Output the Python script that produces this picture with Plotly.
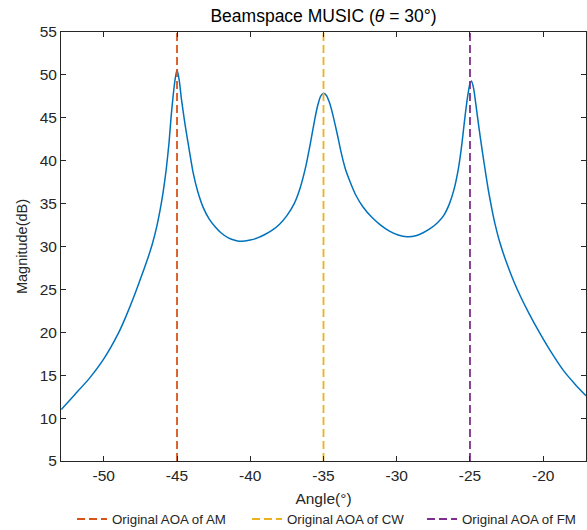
import plotly.graph_objects as go

# Beamspace MUSIC spectrum
angle_deg = [-52.9, -52.0, -51.0, -50.0, -49.0, -48.5, -48.0, -47.5, -47.0, -46.7,
             -46.4, -46.15, -45.95, -45.75, -45.55, -45.4, -45.25, -45.12, -45.0, -44.85,
             -44.7, -44.45, -44.2, -43.9, -43.6, -43.2, -42.8, -42.4, -42.0, -41.5,
             -41.0, -40.6, -40.0, -39.5, -39.0, -38.5, -38.0, -37.5, -37.0, -36.6,
             -36.2, -35.9, -35.6, -35.4, -35.2, -35.0, -34.8, -34.6, -34.4, -34.1,
             -33.8, -33.5, -33.2, -32.8, -32.3, -31.7, -31.1, -30.5, -29.9, -29.3,
             -28.7, -28.2, -27.7, -27.2, -26.8, -26.4, -26.1, -25.8, -25.55, -25.35,
             -25.15, -25.0, -24.9, -24.75, -24.6, -24.4, -24.15, -23.9, -23.75, -23.5,
             -23.3, -22.95, -22.5, -22.0, -21.5, -21.0, -20.3, -19.5, -18.6, -17.8,
             -17.08]
magnitude_db = [11.0, 12.7, 14.6, 16.9, 19.9, 21.8, 23.9, 26.2, 28.6, 30.2,
                32.2, 34.3, 36.3, 38.8, 42.0, 45.2, 47.8, 49.6, 50.6, 49.4,
                47.2, 44.2, 41.6, 38.6, 36.5, 34.5, 33.2, 32.3, 31.6, 31.0,
                30.7, 30.6, 30.75, 31.0, 31.4, 31.9, 32.6, 33.6, 35.0, 36.8,
                39.4, 42.0, 44.8, 46.4, 47.5, 47.85, 47.6, 46.8, 45.6, 43.4,
                41.0, 39.0, 37.6, 36.0, 34.6, 33.4, 32.5, 31.8, 31.35, 31.15,
                31.25, 31.6, 32.1, 32.8, 33.6, 35.0, 36.6, 39.0, 42.0, 45.0,
                47.6, 49.0, 49.3, 48.4, 46.6, 44.0, 41.0, 38.2, 36.6, 34.3,
                32.7, 30.4, 28.1, 25.9, 24.0, 22.3, 20.1, 17.8, 15.5, 13.9,
                12.6]

aoa_angles = [-45, -35, -25]
aoa_names = ["Original AOA of AM", "Original AOA of CW", "Original AOA of FM"]
aoa_colors = ["#D95319", "#EDB120", "#7E2F8E"]

x_range = [-52.92, -17.08]
y_range = [5, 55]
x_ticks = [-50, -45, -40, -35, -30, -25, -20]
x_tick_labels = ["-50", "-45", "-40", "-35", "-30", "-25", "-20"]
y_ticks = [5, 10, 15, 20, 25, 30, 35, 40, 45, 50, 55]

FONT = "Liberation Sans, Arial, Helvetica, sans-serif"
AX = "#262626"

fig = go.Figure()
fig.add_trace(go.Scatter(x=angle_deg, y=magnitude_db, mode="lines",
                         line=dict(color="#0072BD", width=1.5, shape="spline", smoothing=0.5),
                         showlegend=False, hoverinfo="skip"))
for a, n, c in zip(aoa_angles, aoa_names, aoa_colors):
    fig.add_trace(go.Scatter(x=[a, a], y=y_range, mode="lines", name=n,
                             line=dict(color=c, width=1.8, dash="8px,4px")))

fig.update_layout(
    width=587, height=530,
    margin=dict(l=61, r=1, t=32, b=69, autoexpand=False),
    paper_bgcolor="white", plot_bgcolor="white",
    font=dict(family=FONT, color=AX),
    title=dict(text="Beamspace MUSIC (<i>θ</i> = 30°)", xref="paper", x=0.5, xanchor="center",
               yref="container", y=0.9698, yanchor="middle", font=dict(size=17.5, color="#000000")),
    xaxis=dict(range=x_range, tickvals=x_ticks, ticktext=x_tick_labels, ticks="inside",
               ticklen=5, tickcolor=AX, automargin=False,
               showline=True, linecolor=AX, linewidth=1, mirror="ticks", showgrid=False,
               zeroline=False, tickfont=dict(size=15.5, color=AX),
               title=dict(text="Angle(°)", font=dict(size=15.5, color=AX), standoff=10)),
    yaxis=dict(range=y_range, tickvals=y_ticks, ticks="inside", ticklen=5, tickcolor=AX,
               automargin=False,
               showline=True, linecolor=AX, linewidth=1, mirror="ticks", showgrid=False,
               zeroline=False, tickfont=dict(size=15.5, color=AX),
               title=dict(text="Magnitude(dB)", font=dict(size=14.5, color=AX), standoff=8)),
    legend=dict(orientation="h", xref="paper", x=0.021, xanchor="left",
                y=-0.136, yanchor="middle",
                font=dict(size=13.3, color=AX), bgcolor="rgba(0,0,0,0)",
                itemwidth=30, entrywidth=130, tracegroupgap=0),
)

fig.write_html("out.html", config={"displayModeBar": False},
               post_script="document.body.style.margin='0';"
                           "document.documentElement.style.overflow='hidden';")
